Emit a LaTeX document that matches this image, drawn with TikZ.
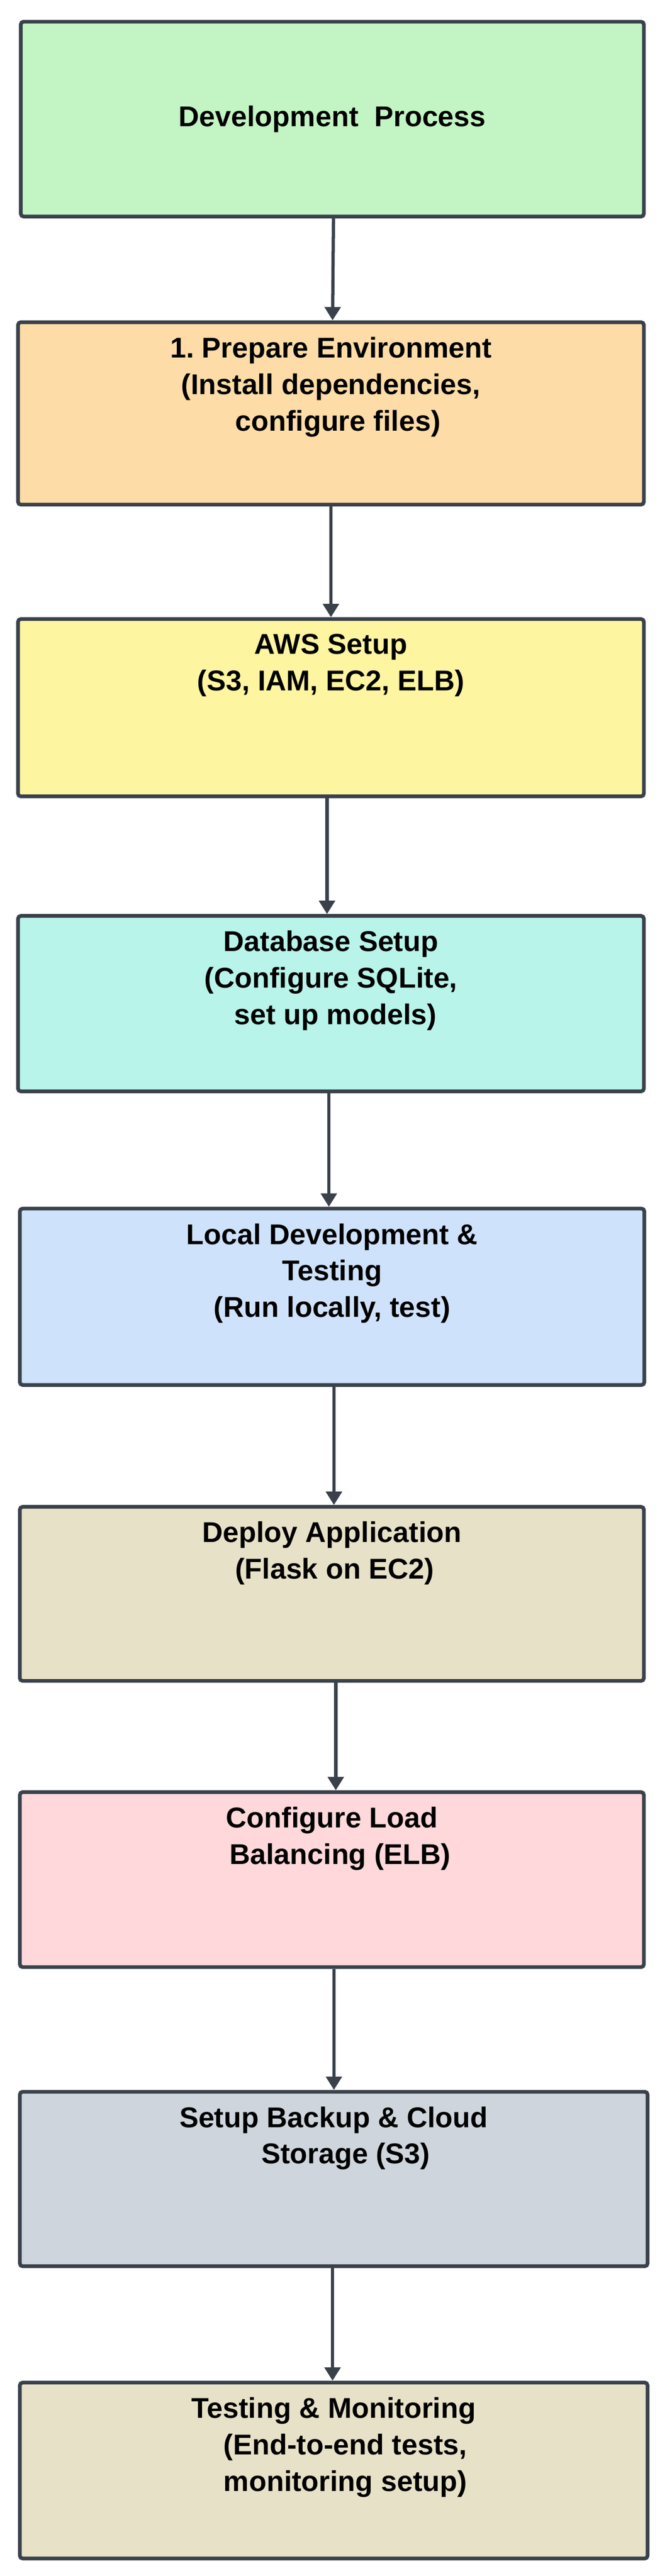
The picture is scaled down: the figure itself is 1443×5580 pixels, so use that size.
\documentclass[tikz,border=0pt]{standalone}
\usepackage{fontspec}
\setmainfont{Liberation Sans}
\usepackage{tikz}
\usetikzlibrary{arrows.meta}

\definecolor{edge}{HTML}{3A414B}
\definecolor{c1}{HTML}{C3F5C4}
\definecolor{c2}{HTML}{FDDCA7}
\definecolor{c3}{HTML}{FEF5A1}
\definecolor{c4}{HTML}{B8F4EA}
\definecolor{c5}{HTML}{CFE2FC}
\definecolor{c6}{HTML}{E7E1C8}
\definecolor{c7}{HTML}{FED8DA}
\definecolor{c8}{HTML}{CED5DD}

\begin{document}
\begin{tikzpicture}[x=1pt,y=-1pt,
  box/.style={draw=edge,line width=8pt,rounded corners=6pt,inner sep=0pt,minimum width=1355pt},
  lbl/.style={anchor=north,yshift=-36pt,align=center,inner sep=0pt},
  flow/.style={draw=edge,line width=7pt,-{Triangle[length=29pt,width=34pt]}}]
\fontsize{62}{79}\selectfont\bfseries\frenchspacing
\fill[white] (0,0) rectangle (1443,5580);
\useasboundingbox (0,0) rectangle (1443,5580);

\node[box,fill=c1,minimum width=1349pt,minimum height=422pt] (1) at (719.5,258) {Development\ \ Process};
\node[box,fill=c2,minimum height=395pt,label={[lbl]north:{1. Prepare Environment\\(Install dependencies,\\\hspace*{30pt}configure files)}}] (2) at (716.5,895.5) {};
\node[box,fill=c3,minimum height=384pt,label={[lbl]north:{AWS Setup\\(S3, IAM, EC2, ELB)}}] (3) at (716.5,1533) {};
\node[box,fill=c4,minimum height=380pt,label={[lbl]north:{Database Setup\\(Configure SQLite,\\\hspace*{20pt}set up models)}}] (4) at (716.5,2174) {};
\node[box,fill=c5,minimum width=1352pt,minimum height=382pt,label={[lbl]north:{Local Development \&\\Testing\\(Run locally, test)}}] (5) at (719,2809) {};
\node[box,fill=c6,minimum width=1351pt,minimum height=377pt,label={[lbl]north:{Deploy Application\\\hspace*{12pt}(Flask on EC2)}}] (6) at (718.5,3452.5) {};
\node[box,fill=c7,minimum width=1351pt,minimum height=379pt,label={[lbl]north:{Configure Load\\\hspace*{36pt}Balancing (ELB)}}] (7) at (718.5,4071.5) {};
\node[box,fill=c8,minimum width=1359pt,minimum height=378pt,label={[lbl]north:{Setup Backup \& Cloud\\\hspace*{52pt}Storage (S3)}}] (8) at (722.5,4720) {};
\node[box,fill=c6,minimum width=1359pt,minimum height=381pt,label={[lbl]north:{Testing \& Monitoring\\\hspace*{50pt}(End-to-end tests,\\\hspace*{50pt}monitoring setup)}}] (9) at (722.5,5351.5) {};

\path[flow] ([xshift=2.5pt]1.south) -- ([xshift=3.5pt]2.north);
\path[flow] (2.south) -- (3.north);
\path[flow] ([xshift=-8.5pt]3.south) -- ([xshift=-8.5pt]4.north);
\path[flow] ([xshift=-4.5pt]4.south) -- ([xshift=-7pt]5.north);
\path[flow] ([xshift=4pt]5.south) -- ([xshift=4.5pt]6.north);
\path[flow] ([xshift=8.5pt]6.south) -- ([xshift=8.5pt]7.north);
\path[flow] ([xshift=4.5pt]7.south) -- ([xshift=0.5pt]8.north);
\path[flow] ([xshift=-2.5pt]8.south) -- ([xshift=-2.5pt]9.north);

\end{tikzpicture}
\end{document}
